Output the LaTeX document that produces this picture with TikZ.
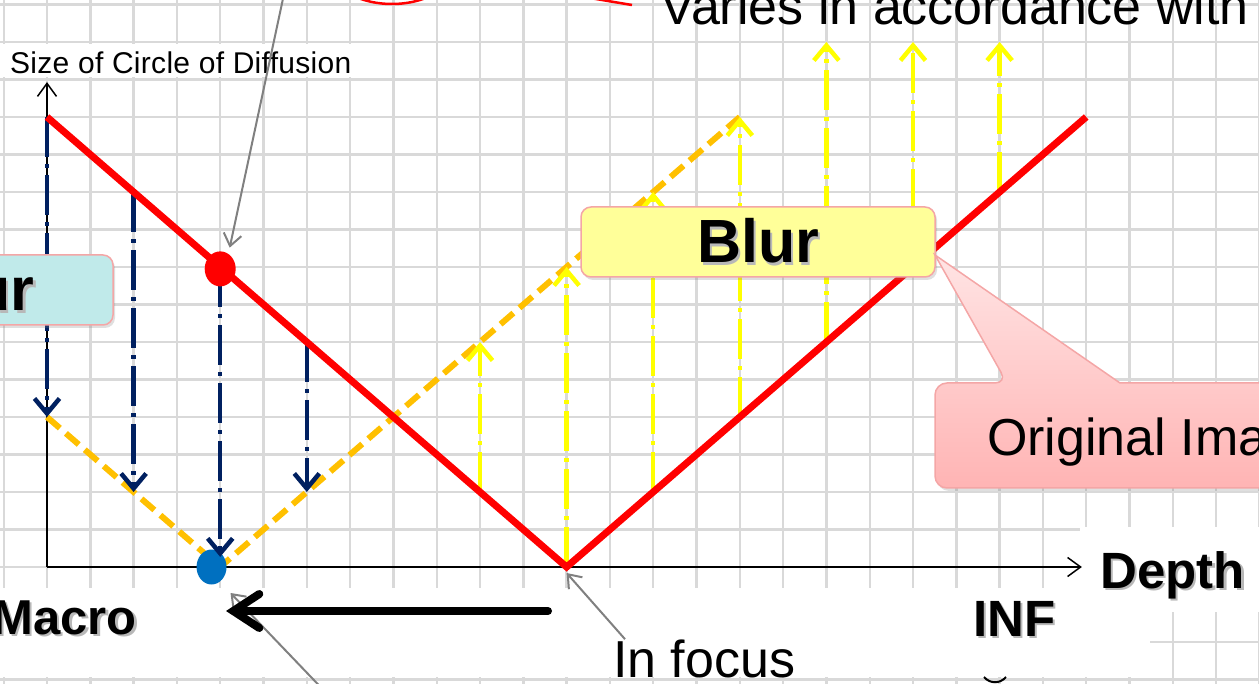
\documentclass[tikz,border=0pt]{standalone}
\usepackage{fontspec}
\setmainfont{Liberation Sans}
\newfontfamily\gothic[LetterSpace=1]{Liberation Sans}
\usetikzlibrary{arrows.meta,shapes.geometric,shadows}

\definecolor{gridgray}{RGB}{217,217,217}
\definecolor{navyline}{RGB}{0,32,96}
\definecolor{focusorange}{RGB}{255,192,0}
\definecolor{blurline}{RGB}{255,255,0}
\definecolor{dotblue}{RGB}{0,112,192}
\definecolor{boxedge}{RGB}{244,166,166}
\definecolor{bluryellow}{RGB}{255,255,153}
\definecolor{blurcyan}{RGB}{192,234,234}
\definecolor{calltop}{RGB}{255,228,228}
\definecolor{callbottom}{RGB}{255,180,180}

% text with a soft offset shadow
\newcommand{\shtext}[1]{\makebox[0pt][l]{\hspace{2.5pt}\raisebox{-2.5pt}{\textcolor{black!28}{#1}}}#1}

\begin{document}
\begin{tikzpicture}[x=1pt, y=-1pt,
  gridline/.style={line width=2.4pt, draw=gridgray},
  axisline/.style={line width=1.5pt, -{Straight Barb[length=13pt,width=19pt]}},
  lensline/.style={line width=7pt, red},
  focusline/.style={line width=6pt, focusorange, dash pattern=on 17pt off 8pt},
  shrinkarr/.style={line width=4.5pt, navyline, dash pattern=on 40pt off 7pt on 4pt off 7pt,
                 -{Straight Barb[length=15pt,width=25pt]}},
  growarr/.style={shrinkarr, blurline},
  blurbox/.style={draw=boxedge, line width=1.5pt, rounded corners=10pt, minimum height=70pt,
                  font=\bfseries\fontsize{61}{70}\selectfont,
                  drop shadow={shadow xshift=2pt, shadow yshift=-3pt, opacity=0.25}},
  txt/.style={inner sep=0pt, font=\fontsize{52}{60}\selectfont},
  boldlbl/.style={inner sep=0pt, font=\bfseries\fontsize{51}{60}\selectfont},
  leader/.style={gray, line width=2pt, -{Straight Barb[length=12pt,width=18pt]}},
]
  \useasboundingbox (0,0) rectangle (1259,684);
  \clip (0,0) rectangle (1259,684);

  % Background grid
  \begin{scope}[shift={(47,567)}, x=43.3pt, y=37.5pt]
    \foreach \i in {-1,...,28} \draw[gridline] (\i,-3.2) -- (\i,15.2);
    \foreach \j in {-3,...,15} \draw[gridline] (-1.2,\j) -- (28.2,\j);
  \end{scope}

  % White backs of the text boxes
  \fill[white] (0,44) rectangle (358,77);
  \fill[white] (0,588) rectangle (1150,677);
  \fill[white] (1080,527) rectangle (1259,612);

  % Cut-off shapes at the top
  \draw[red, line width=2.5pt] (392,-36) ellipse [x radius=64pt, y radius=40pt];
  \draw[red, line width=2.5pt] (560,-7) -- (632,5);

  % Graph
  \begin{scope}[shift={(47,567)}, x=43.3pt, y=37.5pt]
    \draw[axisline] (0,0) -- (0,12.93);
    \draw[axisline] (0,0) -- (23.9,0);
    \coordinate (vertex) at (12,0);

    % focus position
    \draw[focusline] (0,4) -- (4,0) -- (16,12);
    \node[ellipse, fill=dotblue, minimum width=30pt, minimum height=35pt, inner sep=0pt] (bdot) at (3.8,0) {};

    % diffusion shrinks
    \draw[shrinkarr] (0,12) -- (0,4);
    \draw[shrinkarr] (2,10) -- (2,2);
    \draw[shrinkarr] (4,8) -- (4,0.27);
    \draw[shrinkarr] (6,6) -- (6,2);

    % diffusion grows
    \draw[growarr] (10,2) -- (10,6);
    \draw[growarr] (12,0) -- (12,8);
    \draw[growarr] (14,2) -- (14,10);
    \draw[growarr] (16,4) -- (16,12);
    \draw[growarr] (18,6) -- (18,14);
    \draw[growarr] (20,8) -- (20,14);
    \draw[growarr] (22,10) -- (22,14);

    % original image
    \draw[lensline] (0,12) -- (12,0) -- (24,12);
    \node[ellipse, fill=red, minimum width=31pt, minimum height=35pt, inner sep=0pt] (rdot) at (4,7.95) {};
  \end{scope}

  % Boxes
  \node[blurbox, fill=blurcyan, minimum width=279pt] (blurleft) at (-26.5,290) {\shtext{Blur}};
  \node[blurbox, fill=bluryellow, minimum width=354pt] (blur) at (758,242) {\shtext{Blur}};
  \path[draw=boxedge, line width=1.5pt, top color=calltop, bottom color=callbottom,
        drop shadow={shadow xshift=2pt, shadow yshift=-3pt, opacity=0.25}]
    (1007,383) -- (935,255) -- (1120,383) [rounded corners=12pt]
    -- (1300,383) -- (1300,488) -- (935,488) -- (935,383) -- cycle;
  \node[txt, anchor=base west] (original) at (987,456) {Original Image};

  % Labels
  \node[inner sep=0pt, anchor=base west, font=\gothic\fontsize{30}{34}\selectfont] (ylabel) at (10,74)
    {Size of Circle of Diffusion};
  \node[txt, anchor=base west] (varies) at (660,25) {Varies in accordance with};
  \node[txt, anchor=base west] (infocus) at (613,677) {In focus};
  \node[boldlbl, anchor=base east, font=\bfseries\fontsize{49}{60}\selectfont] (macro) at (137,634) {\shtext{Macro}};
  \node[boldlbl, anchor=base west] (inf) at (973,636) {\shtext{INF}};
  \node[boldlbl, anchor=base west] (depth) at (1100,588) {\shtext{Depth}};
  \draw[line width=2pt] (984,677) .. controls (990,684) and (1000,684) .. (1006,677);

  % Leaders
  \coordinate (lead1) at (287,-20);
  \coordinate (lead3) at (333,700);
  \draw[leader] (lead1) -- ([xshift=9.5pt,yshift=3.5pt]rdot.north);
  \draw[leader] ([xshift=12pt]infocus.north west) -- ([yshift=-6pt]vertex);
  \draw[leader] (lead3) -- ([xshift=19pt,yshift=-26pt]bdot.center);

  % Moving focus
  \coordinate (movestart) at (548,611);
  \coordinate (moveend) at (226,611);
  \draw[line width=8pt, line cap=round, -{Straight Barb[length=26pt,width=34pt,line cap=round]}]
    (movestart) -- (moveend);
\end{tikzpicture}
\end{document}
